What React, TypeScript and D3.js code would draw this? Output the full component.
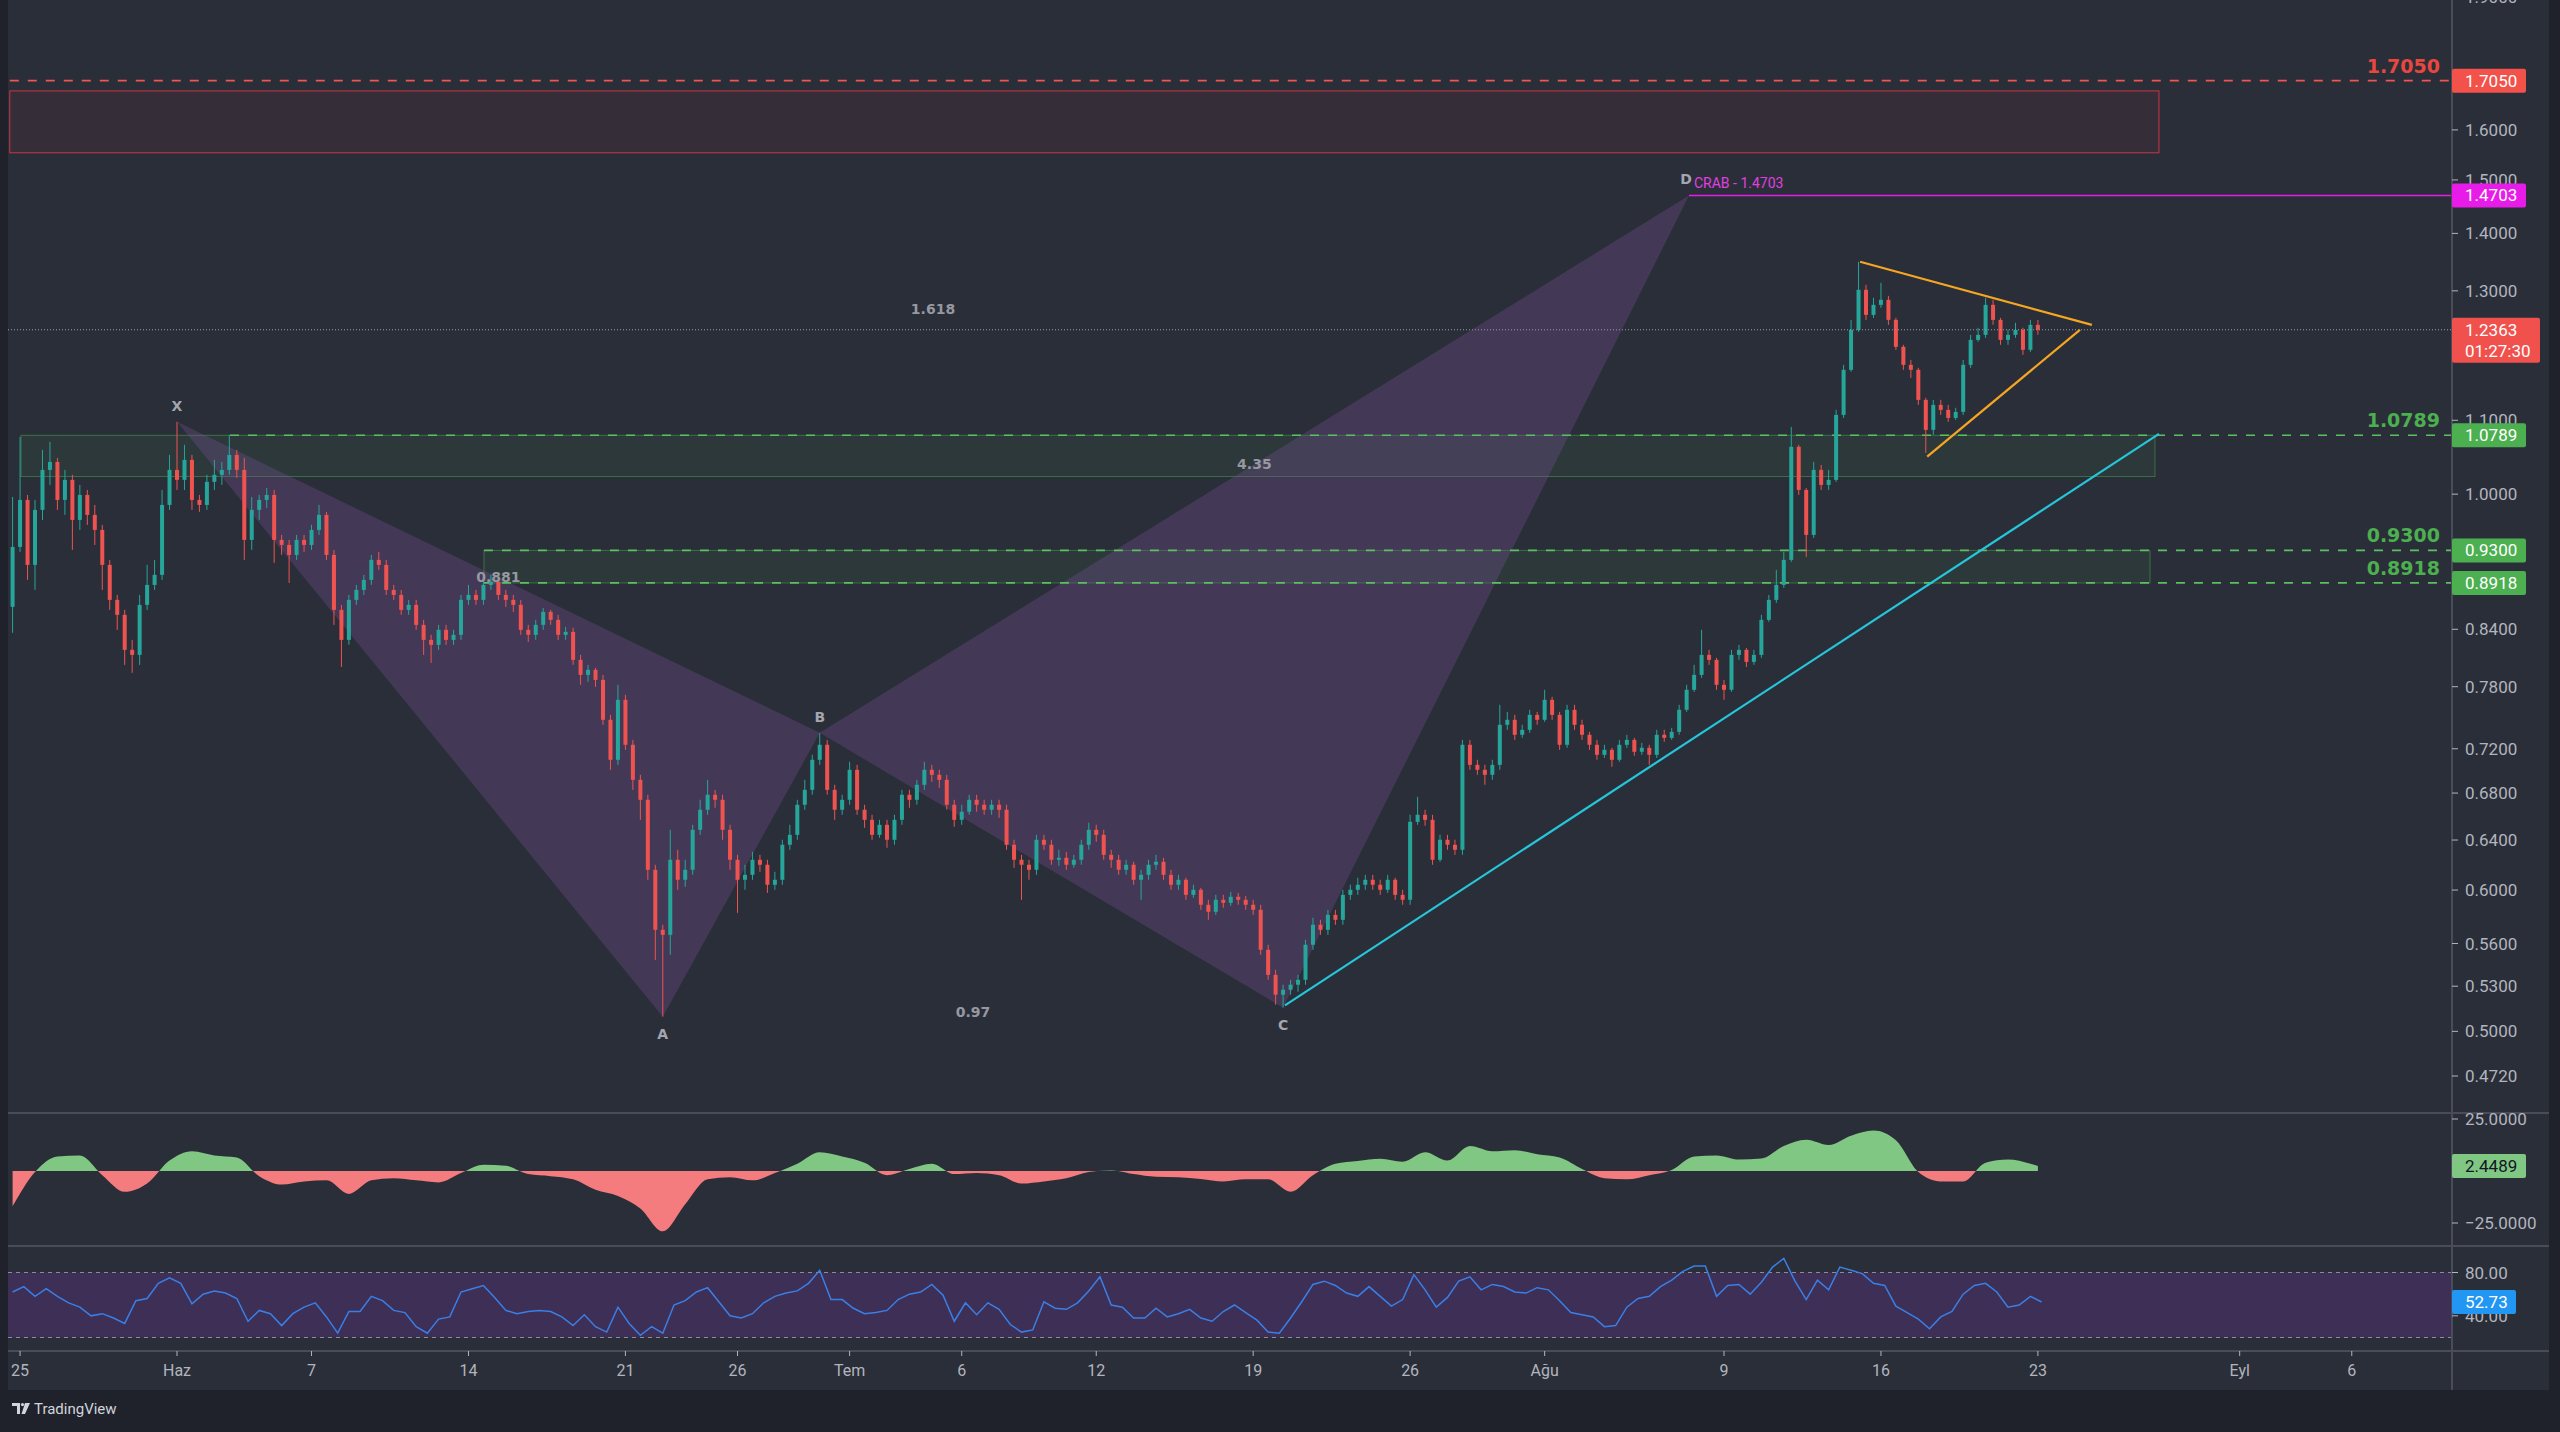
import React from "react";
import * as d3 from "d3";

// ---------------- DATA ----------------
const HOUR = 3600 * 1000;
const DAY = 24 * HOUR;
const JUNE1 = Date.UTC(2021, 5, 1);

const candleStart = Date.UTC(2021, 4, 24, 16); // 8h candles
const candleStepHours = 8;
const firstOpen = 0.8647;

const closes = [
  0.9342, 0.9926, 0.9128, 0.9799, 1.0318, 1.0425, 0.9926, 1.0186, 0.9673, 0.999,
  0.9736, 0.9549, 0.9128, 0.8725, 0.8558, 0.818, 0.8127, 0.8669, 0.8895, 0.9011,
  0.9862, 1.0318, 1.0186, 1.0452, 0.9926, 0.9862, 1.016, 1.0252, 1.0318, 1.052,
  1.0318, 0.9427, 0.9799, 0.9926, 0.999, 0.9427, 0.9366, 0.9246, 0.9427, 0.9366,
  0.9549, 0.9736, 0.9246, 0.8613, 0.8286, 0.8725, 0.8838, 0.8953, 0.9187, 0.9128,
  0.8838, 0.8781, 0.8613, 0.8669, 0.8448, 0.8286, 0.8233, 0.8394, 0.8286, 0.834,
  0.8725, 0.8781, 0.8725, 0.8895, 0.893, 0.8781, 0.8725, 0.8669, 0.8394, 0.834,
  0.8448, 0.8591, 0.8503, 0.834, 0.8372, 0.8075, 0.792, 0.7972, 0.7869, 0.7474,
  0.7098, 0.7669, 0.7237, 0.6917, 0.6741, 0.6159, 0.57, 0.5663, 0.6239, 0.608,
  0.6159, 0.6485, 0.6655, 0.6785, 0.6741, 0.6485, 0.6239, 0.608, 0.6119, 0.6239,
  0.6199, 0.6041, 0.608, 0.6361, 0.6443, 0.6698, 0.6828, 0.7098, 0.7237, 0.6828,
  0.6655, 0.6741, 0.7007, 0.6655, 0.6569, 0.6443, 0.6527, 0.6402, 0.6569, 0.6785,
  0.6741, 0.6873, 0.7007, 0.6962, 0.6917, 0.6698, 0.6569, 0.6638, 0.6741, 0.6698,
  0.6655, 0.6698, 0.6655, 0.6361, 0.6239, 0.6199, 0.6159, 0.6402, 0.6361, 0.6239,
  0.6255, 0.6199, 0.6239, 0.6361, 0.6485, 0.6443, 0.6279, 0.6239, 0.6159, 0.6199,
  0.608, 0.6119, 0.6199, 0.6223, 0.6119, 0.6041, 0.608, 0.5963, 0.6002, 0.5887,
  0.5834, 0.5925, 0.5902, 0.5948, 0.5925, 0.5887, 0.5849, 0.5555, 0.5378, 0.5242,
  0.5276, 0.531, 0.5344, 0.5591, 0.5737, 0.57, 0.5811, 0.5774, 0.5963, 0.6002,
  0.6041, 0.608, 0.6041, 0.6002, 0.608, 0.5963, 0.5925, 0.6552, 0.6612, 0.6569,
  0.6239, 0.6402, 0.6361, 0.632, 0.7237, 0.7052, 0.7007, 0.6962, 0.7052, 0.7426,
  0.7474, 0.7331, 0.7378, 0.7522, 0.7474, 0.7669, 0.7522, 0.7237, 0.7571, 0.7426,
  0.7331, 0.7237, 0.7144, 0.719, 0.7098, 0.7237, 0.7283, 0.7172, 0.7209, 0.7144,
  0.7331, 0.7302, 0.7359, 0.7571, 0.7769, 0.792, 0.8127, 0.8075, 0.7819, 0.7769,
  0.8127, 0.818, 0.8054, 0.8127, 0.8503, 0.8725, 0.8895, 0.9187, 1.063, 1.0055,
  0.9488, 1.0318, 1.012, 1.0186, 1.1077, 1.174, 1.2362, 1.3017, 1.2603, 1.2767,
  1.285, 1.2522, 1.2094, 1.1816, 1.174, 1.1294, 1.0865, 1.1221, 1.1149, 1.1034,
  1.112, 1.1816, 1.2203, 1.2282, 1.2767, 1.2522, 1.2203, 1.2282, 1.2362, 1.2047,
  1.2442, 1.2363,
];

const highs = [
  0.9964, 1.0767, 0.999, 0.9926, 1.0588, 1.0698, 1.0479, 1.0318, 1.0252, 1.012,
  1.0055, 0.9862, 0.9611, 0.9187, 0.8781, 0.8613, 0.8286, 0.8781, 0.9128, 0.9187,
  1.0055, 1.052, 1.0978, 1.0657, 1.052, 0.999, 1.0252, 1.0452, 1.0425, 1.0795,
  1.0588, 1.0479, 0.9964, 0.999, 1.0081, 1.0055, 0.9488, 0.9427, 0.9488, 0.9488,
  0.9611, 0.9862, 0.9774, 0.9306, 0.8669, 0.8781, 0.8895, 0.9011, 0.9246, 0.9282,
  0.9187, 0.8895, 0.8838, 0.8725, 0.8725, 0.8503, 0.834, 0.8448, 0.8448, 0.8394,
  0.8781, 0.8895, 0.8838, 0.8953, 0.9011, 0.8976, 0.8838, 0.8781, 0.8725, 0.8448,
  0.8503, 0.8635, 0.8613, 0.8558, 0.8426, 0.8416, 0.8127, 0.8023, 0.7992, 0.792,
  0.7522, 0.7819, 0.7719, 0.7283, 0.6962, 0.6785, 0.6199, 0.5737, 0.6485, 0.632,
  0.6239, 0.6527, 0.6741, 0.6917, 0.6828, 0.6785, 0.6527, 0.6279, 0.6199, 0.6303,
  0.6279, 0.6239, 0.6143, 0.6402, 0.6527, 0.6741, 0.6917, 0.7144, 0.735, 0.7283,
  0.6873, 0.6785, 0.708, 0.7052, 0.6698, 0.6612, 0.6569, 0.6569, 0.6612, 0.6828,
  0.6828, 0.6917, 0.708, 0.7052, 0.7007, 0.6962, 0.6741, 0.6698, 0.6785, 0.6785,
  0.6741, 0.6741, 0.6741, 0.6698, 0.6402, 0.6279, 0.6239, 0.6443, 0.6443, 0.6402,
  0.632, 0.6303, 0.6279, 0.6402, 0.6544, 0.6527, 0.6485, 0.632, 0.6279, 0.6239,
  0.6223, 0.6159, 0.6239, 0.6279, 0.6255, 0.6159, 0.6119, 0.6096, 0.6041, 0.6017,
  0.5925, 0.5963, 0.5963, 0.5986, 0.5978, 0.5955, 0.5925, 0.5887, 0.5591, 0.5413,
  0.531, 0.5344, 0.5378, 0.5627, 0.5789, 0.5774, 0.5849, 0.5849, 0.6002, 0.6041,
  0.6096, 0.6119, 0.6119, 0.608, 0.6119, 0.6096, 0.6002, 0.6612, 0.6767, 0.6655,
  0.6612, 0.6443, 0.6443, 0.6402, 0.7283, 0.7283, 0.7098, 0.7052, 0.7098, 0.762,
  0.7551, 0.7522, 0.7426, 0.7571, 0.7551, 0.7769, 0.7699, 0.7551, 0.762, 0.762,
  0.7474, 0.7359, 0.7283, 0.7237, 0.7209, 0.7283, 0.7331, 0.7302, 0.7255, 0.7237,
  0.7378, 0.7378, 0.7397, 0.762, 0.7819, 0.8023, 0.8394, 0.818, 0.8096, 0.7869,
  0.818, 0.8233, 0.8201, 0.818, 0.8558, 0.8781, 0.9069, 0.9282, 1.0907, 1.0657,
  1.0081, 1.0425, 1.0385, 1.0318, 1.1149, 1.1816, 1.2522, 1.3496, 1.3101, 1.2883,
  1.3135, 1.2916, 1.2554, 1.2125, 1.1892, 1.177, 1.1323, 1.1294, 1.1294, 1.1221,
  1.1178, 1.1892, 1.2282, 1.2394, 1.2883, 1.285, 1.2554, 1.2362, 1.2474, 1.2394,
  1.2522, 1.2522,
];

const lows = [
  0.8362, 0.9282, 0.8953, 0.8838, 0.9673, 1.012, 0.9799, 0.9736, 0.9306, 0.9549,
  0.9611, 0.9366, 0.8838, 0.8613, 0.8394, 0.8023, 0.7941, 0.8023, 0.8613, 0.8838,
  0.8953, 0.9799, 1.0055, 1.0055, 0.9799, 0.9774, 0.9799, 1.0055, 1.012, 1.0252,
  1.0212, 0.9187, 0.9306, 0.9673, 0.9824, 0.9152, 0.9246, 0.8918, 0.9187, 0.9282,
  0.9306, 0.9488, 0.9187, 0.8448, 0.8002, 0.8233, 0.8669, 0.8781, 0.8895, 0.9069,
  0.8781, 0.8725, 0.8558, 0.8558, 0.8394, 0.8127, 0.8044, 0.818, 0.8233, 0.8233,
  0.8286, 0.8669, 0.8669, 0.8669, 0.8838, 0.8725, 0.8647, 0.8591, 0.834, 0.8265,
  0.8286, 0.8394, 0.8448, 0.8286, 0.8286, 0.8023, 0.7819, 0.7849, 0.7799, 0.7426,
  0.7007, 0.7052, 0.719, 0.6828, 0.6569, 0.608, 0.5483, 0.5095, 0.5519, 0.6002,
  0.6025, 0.6119, 0.6443, 0.6612, 0.6672, 0.6402, 0.6159, 0.5826, 0.6002, 0.608,
  0.6143, 0.5978, 0.6002, 0.6041, 0.632, 0.6402, 0.6655, 0.6785, 0.7052, 0.6785,
  0.6569, 0.6612, 0.6698, 0.6612, 0.6502, 0.6402, 0.6419, 0.6336, 0.6361, 0.6527,
  0.6672, 0.6698, 0.6828, 0.6899, 0.6846, 0.6655, 0.651, 0.6527, 0.6612, 0.6638,
  0.6612, 0.6612, 0.6586, 0.632, 0.6175, 0.5925, 0.608, 0.6119, 0.632, 0.6199,
  0.6191, 0.6159, 0.6175, 0.6199, 0.632, 0.6386, 0.6239, 0.6175, 0.6119, 0.6119,
  0.6041, 0.5925, 0.608, 0.6159, 0.608, 0.6002, 0.6002, 0.5925, 0.594, 0.5849,
  0.5774, 0.5811, 0.5864, 0.5879, 0.5887, 0.5849, 0.5811, 0.5519, 0.5344, 0.5175,
  0.5155, 0.5242, 0.5262, 0.531, 0.5555, 0.5663, 0.5663, 0.5737, 0.5737, 0.5925,
  0.5963, 0.6002, 0.6002, 0.5963, 0.5978, 0.5925, 0.5887, 0.5887, 0.6527, 0.6519,
  0.6199, 0.6223, 0.632, 0.6279, 0.6279, 0.7007, 0.6962, 0.6873, 0.6917, 0.7007,
  0.7378, 0.7283, 0.7302, 0.735, 0.7426, 0.7455, 0.7474, 0.719, 0.7209, 0.7378,
  0.7283, 0.719, 0.7098, 0.7116, 0.7034, 0.708, 0.7209, 0.7135, 0.7144, 0.7052,
  0.7116, 0.7265, 0.7283, 0.7331, 0.7551, 0.7749, 0.789, 0.8023, 0.7769, 0.7669,
  0.7749, 0.8075, 0.8002, 0.8023, 0.8096, 0.8481, 0.8691, 0.8861, 0.9163, 0.999,
  0.9222, 0.9451, 1.0055, 1.0055, 1.016, 1.1034, 1.171, 1.233, 1.2522, 1.2554,
  1.2718, 1.2442, 1.2047, 1.174, 1.1619, 1.1221, 1.0547, 1.0795, 1.1077, 1.0978,
  1.1006, 1.1077, 1.177, 1.2172, 1.2234, 1.2442, 1.2125, 1.2125, 1.2234, 1.1969,
  1.2016, 1.2282,
];

// momentum oscillator, one value per day from first candle (last = last candle)
const oscStepHours = 24;
const oscValues = [
  -17, -0.5, 7, 7.5, -2, -10, -6, 5, 9.5, 7.5, 6.5, -2.5, -6.5, -5, -4.5, -11, -4.5, -3.5,
  -4.5, -5.5, -1, 3, 2.5, -1.5, -2.5, -4, -9, -12, -18, -29, -16, -4, -3, -4.5, -1, 3.5, 9,
  7, 4, -2, 1, 3.5, -1.5, -1, -2, -6, -5, -3.5, -0.5, 0.3, -1.5, -2.8, -3, -3.8, -5, -4, -4,
  -10, -2, 3.5, 4.8, 5.9, 4.5, 9, 5, 12, 9.5, 10, 8, 6.5, 1, -3.5, -4, -2, 0.5, 7, 7.5, 5.5,
  6, 12, 15, 12.5, 17, 19.5, 14.8, -0.5, -5, -5, 4, 5.5, 3.5, 2.4489,
];

// RSI, one value per 12h from first candle
const rsiStepHours = 12;
const rsiValues = [
  62, 67, 58, 65, 58, 52, 48, 40, 42, 38, 33, 54, 56, 70, 75, 70, 51, 60, 63, 61,
  56, 35, 45, 42, 31, 42, 48, 52, 39, 24, 44, 44, 58, 54, 45, 43, 30, 24, 37, 39,
  62, 65, 68, 57, 45, 42, 44, 45, 44, 39, 31, 41, 30, 25, 48, 33, 22, 30, 24, 50,
  54, 62, 66, 53, 40, 38, 42, 52, 58, 61, 63, 70, 82, 55, 55, 47, 42, 43, 45, 55,
  60, 62, 69, 59, 35, 52, 41, 52, 46, 32, 25, 27, 53, 47, 46, 52, 63, 76, 50, 48,
  38, 38, 47, 39, 42, 46, 38, 35, 44, 50, 43, 36, 25, 24, 38, 53, 69, 72, 68, 61,
  58, 67, 58, 49, 55, 78, 64, 48, 57, 72, 76, 64, 69, 67, 62, 61, 66, 64, 54, 43,
  41, 39, 30, 31, 48, 56, 58, 67, 73, 81, 86, 86, 58, 68, 69, 60, 71, 85, 93, 72,
  55, 73, 64, 85, 82, 79, 70, 68, 49, 43, 37, 28, 39, 44, 60, 68, 70, 62, 48, 50,
  58, 52.73,
];

const priceTicks = [1.9, 1.6, 1.5, 1.4, 1.3, 1.1, 1.0, 0.84, 0.78, 0.72, 0.68, 0.64, 0.6, 0.56, 0.53, 0.5, 0.472];
const oscTicks = [25, -25];
const rsiTicks = [80, 40];

const timeTickDates = ["2021-05-25", "2021-06-01", "2021-06-07", "2021-06-14", "2021-06-21", "2021-06-26", "2021-07-01", "2021-07-06", "2021-07-12", "2021-07-19", "2021-07-26", "2021-08-01", "2021-08-09", "2021-08-16", "2021-08-23", "2021-09-01", "2021-09-06"];
const timeTickLabels = ["25", "Haz", "7", "14", "21", "26", "Tem", "6", "12", "19", "26", "Ağu", "9", "16", "23", "Eyl", "6"];

// horizontal levels
const levelPrices = [1.705, 1.0789, 0.93, 0.8918];
const levelLabels = ["1.7050", "1.0789", "0.9300", "0.8918"];
const levelStarts = ["2021-05-24T13:00Z", "2021-06-03T08:45Z", "2021-06-14T16:35Z", "2021-06-14T16:35Z"];
const levelKinds = ["red", "green", "green", "green"];

// zones [top price, bottom price, from, to]
const zoneTops = [1.6826, 1.0789, 0.93];
const zoneBottoms = [1.5535, 1.0231, 0.8918];
const zoneFrom = ["2021-05-24T13:00Z", "2021-05-25T01:00Z", "2021-06-14T16:35Z"];
const zoneTo = ["2021-08-28T09:35Z", "2021-08-28T05:20Z", "2021-08-28T00:00Z"];
const zoneKinds = ["red", "green", "green"];

// XABCD crab pattern
const patternNames = ["X", "A", "B", "C", "D"];
const patternDates = ["2021-06-01T00:00Z", "2021-06-22T16:00Z", "2021-06-29T16:00Z", "2021-07-20T08:00Z", "2021-08-07T10:30Z"];
const patternPrices = [1.0978, 0.5095, 0.735, 0.5155, 1.4703];
const ratioPairs = [[0, 2], [1, 3], [2, 4], [0, 4]];
const ratioLabels = ["0.881", "0.97", "4.35", "1.618"];
const crabPrice = 1.4703;

// trend line and triangle
const trendDates = ["2021-07-20T10:00Z", "2021-08-28T09:35Z"];
const trendPrices = [0.517, 1.0809];
const triTopDates = ["2021-08-15T01:40Z", "2021-08-25T09:50Z"];
const triTopPrices = [1.3496, 1.2442];
const triBotDates = ["2021-08-18T01:30Z", "2021-08-24T21:00Z"];
const triBotPrices = [1.0496, 1.2362];

const lastPrice = 1.2363;
const countdown = "01:27:30";
const oscLast = 2.4489;
const rsiLast = 52.73;

// ---------------- CHART ----------------
const W = 2560, H = 1432;
const LEFT = 8, AXISX = 2452, RIGHT = 2549;
const MAIN_BOTTOM = 1113, OSC_BOTTOM = 1246, RSI_BOTTOM = 1351, TIME_BOTTOM = 1390;
const BG = "#2a2e39", OUTER = "#1f222b", TXT = "#b2b5be", SEP = "#4a4d58";
const UP = "#26a69a", DOWN = "#ef5350";
const FONT = "Roboto, 'Noto Sans', sans-serif";
const BOLD = "'DejaVu Sans', Verdana, sans-serif";

export default function App() {
  const x = d3.scaleUtc()
    .domain([new Date(JUNE1 - 7.449 * DAY), new Date(JUNE1 + 101.47 * DAY)])
    .range([LEFT + 2, AXISX]);
  const y = d3.scaleLog().domain([0.45, 1.892]).range([MAIN_BOTTOM, 0]);
  const yOsc = d3.scaleLinear().domain([-25, 25]).range([1223, 1119]);
  const yRsi = d3.scaleLinear().domain([20, 80]).range([1337.5, 1272.5]);
  const dt = (s: string) => new Date(s);
  const lastTime = candleStart + (closes.length - 1) * candleStepHours * HOUR;

  const candles = closes.map((c, i) => ({
    t: new Date(candleStart + i * candleStepHours * HOUR),
    o: i === 0 ? firstOpen : closes[i - 1],
    h: highs[i], l: lows[i], c,
  }));

  const oscPts = oscValues.map((v, j) => ({ t: new Date(Math.min(candleStart + j * oscStepHours * HOUR, lastTime)), v }));
  const oscArea = d3.area<any>().x(d => x(d.t)).y0(yOsc(0)).y1(d => yOsc(d.v)).curve(d3.curveMonotoneX)(oscPts) || "";
  const rsiPts = rsiValues.map((v, m) => ({ t: new Date(candleStart + m * rsiStepHours * HOUR), v }));
  const rsiLine = d3.line<any>().x(d => x(d.t)).y(d => yRsi(d.v)).curve(d3.curveLinear)(rsiPts) || "";

  const P = patternDates.map((d, i) => [x(dt(d)), y(patternPrices[i])]);
  const tri = (a: number, b: number, c: number) => `M${P[a][0]},${P[a][1]}L${P[b][0]},${P[b][1]}L${P[c][0]},${P[c][1]}Z`;

  const badge = (price: number, label: string, bg: string, fg: string, key: string, w = 74) => {
    const yy = y(price);
    return (
      <g key={key}>
        <rect x={AXISX} y={yy - 12} width={w} height={24} rx={2} fill={bg} />
        <text x={AXISX + 13} y={yy + 6} fill={fg} fontSize={17} fontFamily={FONT}>{label}</text>
      </g>
    );
  };

  const zeroY = yOsc(0);

  return (
    <div style={{ position: "absolute", left: 0, top: 0 }}>
      <svg width={W} height={H} style={{ display: "block" }}>
        <defs>
          <clipPath id="mainClip"><rect x={LEFT} y={0} width={AXISX - LEFT} height={MAIN_BOTTOM} /></clipPath>
          <clipPath id="oscPos"><rect x={LEFT} y={MAIN_BOTTOM} width={AXISX - LEFT} height={zeroY - MAIN_BOTTOM} /></clipPath>
          <clipPath id="oscNeg"><rect x={LEFT} y={zeroY} width={AXISX - LEFT} height={OSC_BOTTOM - zeroY} /></clipPath>
          <clipPath id="rsiClip"><rect x={LEFT} y={OSC_BOTTOM} width={AXISX - LEFT} height={RSI_BOTTOM - OSC_BOTTOM} /></clipPath>
        </defs>
        <rect x={0} y={0} width={W} height={H} fill={OUTER} />
        <rect x={LEFT} y={0} width={RIGHT - LEFT} height={TIME_BOTTOM} fill={BG} />

        {/* ---------- main pane ---------- */}
        <g clipPath="url(#mainClip)">
          {zoneTops.map((tp, i) => {
            const x0 = Math.max(LEFT, x(dt(zoneFrom[i])));
            const x1 = x(dt(zoneTo[i]));
            const red = zoneKinds[i] === "red";
            return (
              <rect key={"z" + i} x={x0} y={y(tp)} width={x1 - x0} height={y(zoneBottoms[i]) - y(tp)}
                fill={red ? "rgba(242,54,69,0.06)" : "rgba(76,175,80,0.08)"}
                stroke={red ? "rgba(242,54,69,0.8)" : "rgba(76,175,80,0.5)"} strokeWidth={1} />
            );
          })}

          <path d={tri(0, 1, 2)} fill="rgba(120,82,150,0.32)" />
          <path d={tri(2, 3, 4)} fill="rgba(120,82,150,0.32)" />

          {levelPrices.map((p, i) => {
            const yy = y(p);
            const x0 = Math.max(LEFT, x(dt(levelStarts[i])));
            const col = levelKinds[i] === "red" ? "#f0554f" : "#5cbf60";
            return <line key={"l" + i} x1={x0} x2={AXISX} y1={yy} y2={yy} stroke={col} strokeWidth={1.6} strokeDasharray="9,9" />;
          })}

          {candles.map((d, i) => {
            const cx = x(d.t);
            const up = d.c >= d.o;
            const col = up ? UP : DOWN;
            const yo = y(d.o), yc = y(d.c);
            const top = Math.min(yo, yc), bot = Math.max(yo, yc);
            return (
              <g key={"c" + i}>
                <line x1={cx} x2={cx} y1={Math.min(y(d.h), top)} y2={Math.max(y(d.l), bot)} stroke={col} strokeWidth={1} />
                <rect x={cx - 2} y={top} width={4} height={Math.max(1, bot - top)} fill={col} />
              </g>
            );
          })}

          <line x1={LEFT} x2={AXISX} y1={y(lastPrice)} y2={y(lastPrice)} stroke="#9a9ca6" strokeWidth={1} strokeDasharray="1,2" />

          <line x1={P[4][0]} x2={AXISX} y1={y(crabPrice)} y2={y(crabPrice)} stroke="#e81ce8" strokeWidth={1.6} />
          <text x={P[4][0] + 5} y={y(crabPrice) - 7} fill="#e040e0" fontSize={14} fontFamily={FONT}>CRAB - 1.4703</text>

          <line x1={x(dt(trendDates[0]))} y1={y(trendPrices[0])} x2={x(dt(trendDates[1]))} y2={y(trendPrices[1])} stroke="#26c6da" strokeWidth={2.2} />
          <line x1={x(dt(triTopDates[0]))} y1={y(triTopPrices[0])} x2={x(dt(triTopDates[1]))} y2={y(triTopPrices[1])} stroke="#f5a623" strokeWidth={2.2} />
          <line x1={x(dt(triBotDates[0]))} y1={y(triBotPrices[0])} x2={x(dt(triBotDates[1]))} y2={y(triBotPrices[1])} stroke="#f5a623" strokeWidth={2.2} />

          {patternNames.map((n, i) => {
            const below = n === "A" || n === "C";
            return (
              <text key={"pn" + i} x={P[i][0] - (n === "D" ? 3 : 0)} y={below ? P[i][1] + 22 : P[i][1] - 11}
                textAnchor="middle" fill="#a3a6af" fontSize={14} fontWeight="bold" fontFamily={BOLD}>{n}</text>
            );
          })}
          {ratioPairs.map((pr, i) => (
            <text key={"r" + i} x={(P[pr[0]][0] + P[pr[1]][0]) / 2} y={(P[pr[0]][1] + P[pr[1]][1]) / 2 + 5}
              textAnchor="middle" fill="#9598a1" fontSize={14} fontWeight="bold" fontFamily={BOLD}>{ratioLabels[i]}</text>
          ))}

          {levelPrices.map((p, i) => (
            <text key={"ll" + i} x={AXISX - 12} y={y(p) - 8} textAnchor="end"
              fill={levelKinds[i] === "red" ? "#e8473f" : "#4caf50"} fontSize={19} fontWeight="bold" fontFamily={BOLD}>{levelLabels[i]}</text>
          ))}
        </g>

        {/* ---------- oscillator pane ---------- */}
        <path d={oscArea} fill="#81c784" clipPath="url(#oscPos)" />
        <path d={oscArea} fill="#f47b7e" clipPath="url(#oscNeg)" />

        {/* ---------- RSI pane ---------- */}
        <rect x={LEFT} y={yRsi(80)} width={AXISX - LEFT} height={yRsi(20) - yRsi(80)} fill="rgba(120,50,170,0.25)" />
        <line x1={LEFT} x2={AXISX} y1={yRsi(80)} y2={yRsi(80)} stroke="#8a8d96" strokeWidth={1} strokeDasharray="4,4" />
        <line x1={LEFT} x2={AXISX} y1={yRsi(20)} y2={yRsi(20)} stroke="#8a8d96" strokeWidth={1} strokeDasharray="4,4" />
        <path d={rsiLine} fill="none" stroke="#3a7fe6" strokeWidth={1.5} clipPath="url(#rsiClip)" />

        {/* separators */}
        <line x1={LEFT} x2={RIGHT} y1={MAIN_BOTTOM} y2={MAIN_BOTTOM} stroke={SEP} strokeWidth={2} />
        <line x1={LEFT} x2={RIGHT} y1={OSC_BOTTOM} y2={OSC_BOTTOM} stroke={SEP} strokeWidth={2} />
        <line x1={LEFT} x2={RIGHT} y1={RSI_BOTTOM} y2={RSI_BOTTOM} stroke={SEP} strokeWidth={2} />
        <line x1={AXISX} x2={AXISX} y1={0} y2={TIME_BOTTOM} stroke={SEP} strokeWidth={2} />

        {/* price axis */}
        {priceTicks.map((p, i) => (
          <g key={"pt" + i}>
            <line x1={AXISX} x2={AXISX + 6} y1={y(p)} y2={y(p)} stroke={TXT} />
            <text x={AXISX + 13} y={y(p) + 6} fill={TXT} fontSize={17} fontFamily={FONT}>{d3.format(".4f")(p)}</text>
          </g>
        ))}
        {badge(1.705, "1.7050", "#f2524a", "#ffffff", "b1")}
        {badge(1.4703, "1.4703", "#e81ce8", "#ffffff", "b2")}
        {badge(1.0789, "1.0789", "#4caf50", "#ffffff", "b4")}
        {badge(0.93, "0.9300", "#4caf50", "#ffffff", "b5")}
        {badge(0.8918, "0.8918", "#4caf50", "#ffffff", "b6")}
        <g>
          <rect x={AXISX} y={y(lastPrice) - 12} width={88} height={45} rx={2} fill="#f0514d" />
          <text x={AXISX + 13} y={y(lastPrice) + 6} fill="#fff" fontSize={17} fontFamily={FONT}>{d3.format(".4f")(lastPrice)}</text>
          <text x={AXISX + 13} y={y(lastPrice) + 27} fill="#fff" fontSize={17} fontFamily={FONT}>{countdown}</text>
        </g>

        {/* osc axis */}
        {oscTicks.map((v, i) => (
          <g key={"ot" + i}>
            <line x1={AXISX} x2={AXISX + 6} y1={yOsc(v)} y2={yOsc(v)} stroke={TXT} />
            <text x={AXISX + 13} y={yOsc(v) + 6} fill={TXT} fontSize={17} fontFamily={FONT}>{d3.format(".4f")(v)}</text>
          </g>
        ))}
        <rect x={AXISX} y={yOsc(oscLast) - 12} width={74} height={24} rx={2} fill="#81c784" />
        <text x={AXISX + 13} y={yOsc(oscLast) + 6} fill="#131722" fontSize={17} fontFamily={FONT}>{d3.format(".4f")(oscLast)}</text>

        {/* rsi axis */}
        {rsiTicks.map((v, i) => (
          <g key={"rt" + i}>
            <line x1={AXISX} x2={AXISX + 6} y1={yRsi(v)} y2={yRsi(v)} stroke={TXT} />
            <text x={AXISX + 13} y={yRsi(v) + 6} fill={TXT} fontSize={17} fontFamily={FONT}>{d3.format(".2f")(v)}</text>
          </g>
        ))}
        <rect x={AXISX} y={yRsi(rsiLast) - 12} width={64} height={24} rx={2} fill="#2196f3" />
        <text x={AXISX + 13} y={yRsi(rsiLast) + 6} fill="#fff" fontSize={17} fontFamily={FONT}>{d3.format(".2f")(rsiLast)}</text>

        {/* time axis */}
        {timeTickDates.map((s, i) => {
          const xx = x(new Date(s + "T00:00:00Z"));
          return (
            <g key={"tt" + i}>
              <line x1={xx} x2={xx} y1={RSI_BOTTOM} y2={RSI_BOTTOM + 5} stroke={TXT} />
              <text x={xx} y={1376} textAnchor="middle" fill={TXT} fontSize={16} fontFamily={FONT}>{timeTickLabels[i]}</text>
            </g>
          );
        })}

        {/* footer logo */}
        <g transform="translate(12,1403)">
          <path d="M0,0 H8 V11 H5 V3 H0 Z" fill="#d1d4dc" />
          <circle cx={10.5} cy={1.6} r={1.6} fill="#d1d4dc" />
          <path d="M13,0 H18 L13,11 H9.5 Z" fill="#d1d4dc" />
          <text x={22} y={11} fill="#d1d4dc" fontSize={15} fontFamily={FONT}>TradingView</text>
        </g>
      </svg>
    </div>
  );
}
